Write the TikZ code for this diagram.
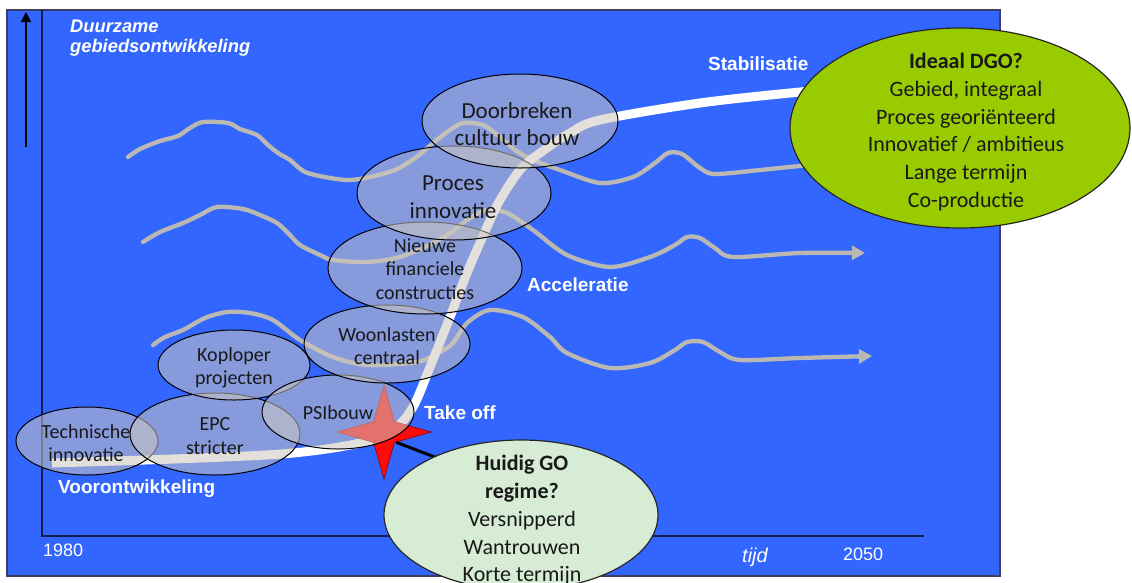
\documentclass[tikz,border=0pt]{standalone}
\usepackage{fontspec}
\setmainfont{Carlito}
\newfontfamily\arialf{Liberation Sans}
\usetikzlibrary{shapes.geometric,arrows.meta}

\definecolor{bgblue}{RGB}{51,102,255}
\definecolor{framec}{RGB}{60,62,95}
\definecolor{axisc}{RGB}{20,28,80}
\definecolor{wavec}{RGB}{185,184,178}
\definecolor{bubfill}{RGB}{205,200,192}
\definecolor{idealc}{RGB}{153,204,0}
\definecolor{regimec}{RGB}{215,236,212}
\definecolor{inkc}{RGB}{25,25,25}
\definecolor{starc}{RGB}{255,10,10}

\begin{document}
\begin{tikzpicture}[x=1pt,y=-1pt,
  bub/.style 2 args={ellipse, draw=black, line width=1pt, fill=bubfill,
    fill opacity=0.55, inner sep=0pt, minimum width=#1pt, minimum height=#2pt},
  bigbub/.style 2 args={ellipse, draw=black!85, line width=1.2pt,
    inner sep=0pt, minimum width=#1pt, minimum height=#2pt},
  btxt/.style={text=inkc, align=center, inner sep=0pt,
    font=\fontsize{20}{23.5}\selectfont},
  btxtl/.style={text=inkc, align=center, inner sep=0pt,
    font=\fontsize{23}{27.5}\selectfont},
  gtxt/.style={text=inkc, align=center, inner sep=0pt,
    font=\fontsize{22}{27.8}\selectfont},
  phase/.style={text=white, inner sep=0pt, anchor=base west,
    font=\arialf\bfseries\fontsize{19}{22}\selectfont},
  yeartxt/.style={text=white, inner sep=0pt, anchor=base west,
    font=\arialf\fontsize{18}{21}\selectfont},
  ytitle/.style={text=white, inner sep=0pt, anchor=base west,
    font=\arialf\bfseries\itshape\fontsize{18.3}{21}\selectfont},
  wave/.style={draw=wavec, line width=4.3pt, line cap=round, line join=round},
  wavetip/.style={-{Triangle[length=13pt,width=14pt]}},
  scurve/.style={draw=white, line width=9pt},
  axis/.style={draw=axisc, line width=1.3pt}]

\useasboundingbox (0,0) rectangle (1132,582);
\clip (0,0) rectangle (1132,582);
\fill[white] (0,0) rectangle (1132,582);

% panel
\draw[draw=framec, line width=1.5pt, fill=bgblue] (7,10) rectangle (1000,576);

% axes
\coordinate (ytop) at (42,10);
\coordinate (org) at (42,536);
\coordinate (xend) at (924,536);
\draw[axis] (ytop) -- (org) -- (xend);
\coordinate (yarr0) at (26,147);
\coordinate (yarr1) at (26,12);
\draw[line width=1.5pt, -{Triangle[length=10pt,width=10pt]}] (yarr0) -- (yarr1);

% wavy trends
\draw[wave] plot[smooth, tension=0.5] coordinates {(128,157) (140,149) (160,141)
  (178,136) (190,128) (203,122) (228,123) (240,129) (257,135) (268,145) (278,153)
  (290,160) (305,172) (330,178) (350,180) (370,177) (395,170) (415,158) (433,143)
  (450,130) (463,123) (483,125) (500,137) (515,150) (533,160) (560,170) (600,183)
  (633,177) (655,163) (668,153) (682,154) (700,168) (715,174) (760,170) (800,166)
  (840,163)};
\draw[wave, wavetip] plot[smooth, tension=0.5] coordinates {(143,242) (160,232)
  (183,223) (200,215) (217,207) (243,209) (260,215) (277,223) (290,235) (300,245)
  (320,255) (333,260) (367,262) (400,257) (433,243) (450,233) (470,218) (487,210)
  (507,213) (533,230) (567,255) (610,267) (650,257) (675,245) (687,237) (700,238)
  (715,248) (733,257) (800,253) (865,253)};
\draw[wave, wavetip] plot[smooth, tension=0.5] coordinates {(153,345) (165,337)
  (183,330) (205,318) (227,312) (250,313) (273,320) (300,340) (333,357) (367,365)
  (417,362) (440,352) (453,343) (467,323) (490,310) (523,317) (550,337) (567,353)
  (610,368) (650,363) (675,350) (687,342) (703,342) (720,352) (740,360) (800,358)
  (872,356)};

% transition S-curve
\draw[scurve] plot[smooth, tension=0.55] coordinates {(52,463) (200,458) (293,453)
  (360,443) (393,430) (413,407) (430,367) (450,317) (467,273) (487,227) (500,200)
  (520,170) (540,153) (570,133) (600,120) (700,103) (800,92) (840,89)};

% take-off marker and link to the current regime
\coordinate (hgin) at (445,461);
\node[star, star points=4, star point ratio=3.2, minimum size=94pt, inner sep=0pt,
  fill=starc, draw=red!60!black, line width=0.7pt] (spark) at (384,432) {};
\draw[line width=3pt, black] (spark.-40) -- (hgin);

% niches
\node[bub={142}{68}] (tech) at (87,441) {};
\node[bub={170}{82}] (epc) at (215,434) {};
\node[bub={152}{70}] (kop) at (234,365) {};
\node[bub={152}{74}] (psi) at (338,412) {};
\node[bub={166}{78}] (woon) at (387,344) {};
\node[bub={194}{92}] (nieuw) at (425,268) {};
\node[bub={194}{94}] (proc) at (454,193) {};
\node[bub={196}{94}] (doorb) at (520,121) {};

\node[btxt] (tech-t) at (86,443) {Technische\\innovatie};
\node[btxt] (epc-t) at (215,436) {EPC\\stricter};
\node[btxt] (kop-t) at (234,368) {Koploper\\projecten};
\node[btxt] (psi-t) at (338,413) {PSIbouw};
\node[btxt] (woon-t) at (387,346) {Woonlasten\\centraal};
\node[btxt] (nieuw-t) at (425,269) {Nieuwe\\financiele\\constructies};
\node[btxtl] (proc-t) at (453,197) {Proces\\innovatie};
\node[btxtl] (doorb-t) at (517,124) {Doorbreken\\cultuur bouw};

% regimes
\node[bigbub={340}{200}, fill=idealc] (ideal) at (960,128) {};
\node[gtxt] (ideal-t) at (966,132) {\textbf{Ideaal DGO?}\\Gebied, integraal\\Proces georiënteerd\\Innovatief / ambitieus\\Lange termijn\\Co-productie};
\node[bigbub={274}{150}, fill=regimec] (huidig) at (521,515) {};
\node[gtxt, anchor=north] (huidig-t) at (522,455) {\textbf{Huidig GO}\\\textbf{regime?}\\Versnipperd\\Wantrouwen\\Korte termijn};

% axis and phase labels
\node[ytitle] (ylab1) at (70,32) {Duurzame};
\node[ytitle] (ylab2) at (70,52) {gebiedsontwikkeling};
\node[phase] (stab) at (708,70) {Stabilisatie};
\node[phase] (accel) at (527,291) {Acceleratie};
\node[phase] (takeoff) at (424,419) {Take off};
\node[phase] (voor) at (58,493) {Voorontwikkeling};
\node[yeartxt] (y1980) at (43,556) {1980};
\node[yeartxt] (y2050) at (843,560) {2050};
\node[text=white, inner sep=0pt, anchor=base west,
  font=\arialf\itshape\fontsize{20}{23}\selectfont] (tijd) at (742,562) {tijd};

\end{tikzpicture}
\end{document}
